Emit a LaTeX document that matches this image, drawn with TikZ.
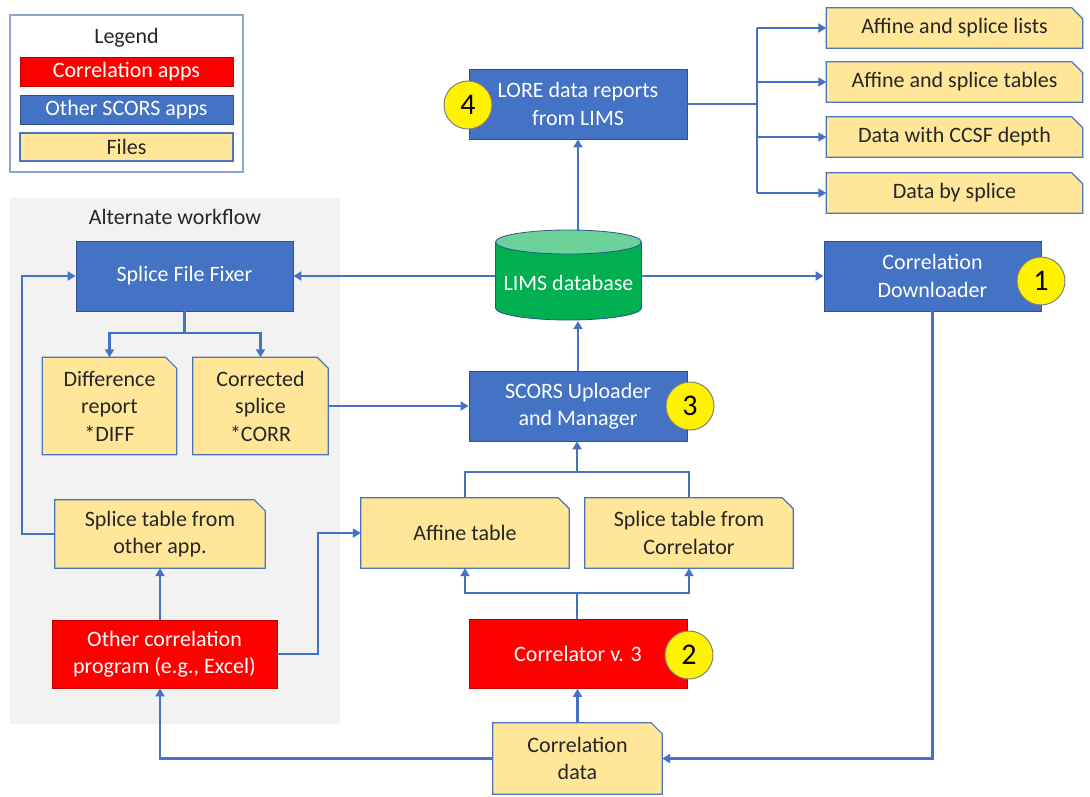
\documentclass[tikz,border=0pt]{standalone}
\usepackage{fontspec}
\setmainfont{Carlito}
\usetikzlibrary{arrows.meta}
\definecolor{appblue}{HTML}{4472C4}
\definecolor{appblueb}{HTML}{2F528F}
\definecolor{appred}{HTML}{FF0000}
\definecolor{filey}{HTML}{FFE699}
\definecolor{lineb}{HTML}{4472C4}
\definecolor{panelgray}{HTML}{F2F2F2}
\definecolor{dbgreen}{HTML}{00B050}
\definecolor{dbtop}{HTML}{6DD29A}
\definecolor{legframe}{HTML}{8EA3CE}
\definecolor{txtdark}{HTML}{262626}
\pgfdeclarelayer{bg}
\pgfsetlayers{bg,main}
\tikzset{
 nodebase/.style={inner sep=0pt, align=center, font=\fontsize{22}{27.5}\selectfont},
 bluebox/.style={nodebase, rectangle, fill=appblue, draw=appblueb, line width=0.8pt, text=white},
 redbox/.style={nodebase, rectangle, fill=appred, draw=appred!75!black, line width=0.8pt, text=white},
 filebox/.style={nodebase, rectangle, text=txtdark},
 fileline/.style={fill=filey, draw=appblue!85!gray, line width=1.2pt},
 badge/.style={circle, fill=yellow, draw=gray, line width=1pt, minimum size=48pt, inner sep=0pt, font=\fontsize{30}{30}\selectfont},
 conn/.style={draw=lineb, line width=2.8pt},
 arr/.style={conn, -{Triangle[length=8pt,width=9pt]}},
}
\newcommand\myfile[6]{%
 \node[filebox, minimum width=#4pt, minimum height=#5pt] (#1) at (#2,#3) {#6};
 \begin{pgfonlayer}{bg}
 \draw[fileline] (#1.north west) -- ([xshift=-11pt]#1.north east) -- ([yshift=-11pt]#1.north east) -- (#1.south east) -- (#1.south west) -- cycle;
 \end{pgfonlayer}}
\begin{document}
\begin{tikzpicture}[x=1pt,y=-1pt]
\useasboundingbox (0,0) rectangle (1090,797);
\begin{pgfonlayer}{bg}
\fill[white] (0,0) rectangle (1090,797);
\fill[panelgray] (10,198) rectangle (340,724);
\end{pgfonlayer}
\node[nodebase, text=txtdark] (altlab) at (175,217) {Alternate workflow};
% legend
\draw[legframe, line width=1.2pt, fill=white] (10,15) rectangle (243,172);
\node[nodebase, text=txtdark] (legtitle) at (126.5,38) {Legend};
\node[redbox, minimum width=213pt, minimum height=29pt] (legred) at (126.5,71.5) {Correlation apps};
\node[bluebox, minimum width=213pt, minimum height=29pt] (legblue) at (126.5,109.5) {Other SCORS apps};
\node[filebox, fill=filey, draw=appblue!85!gray, line width=1.2pt, minimum width=213pt, minimum height=28pt] (legfile) at (126.5,147) {Files};
% apps
\node[bluebox, minimum width=218pt, minimum height=70pt] (LORE) at (578,104) {LORE data reports\\from LIMS};
\node[bluebox, minimum width=217pt, minimum height=70pt] (SFF) at (184.5,276) {Splice File Fixer};
\node[bluebox, minimum width=217pt, minimum height=70pt] (CD) at (932.5,276) {Correlation\\Downloader};
\node[bluebox, minimum width=218pt, minimum height=70pt] (SCORS) at (578,406) {SCORS Uploader\\and Manager};
\node[redbox, minimum width=218pt, minimum height=69pt] (CORR) at (578,654) {Correlator v. 3};
\node[redbox, minimum width=225pt, minimum height=68pt] (OCP) at (164.5,654) {Other correlation\\program (e.g., Excel)};
% LIMS cylinder
\fill[dbgreen] (568.5,308) ellipse [x radius=73pt, y radius=12pt];
\draw[appblueb, line width=0.8pt] (568.5,308) ellipse [x radius=73pt, y radius=12pt];
\fill[dbgreen] (495.5,242) rectangle (641.5,308);
\draw[appblueb, line width=0.8pt] (495.5,242) -- (495.5,308) (641.5,242) -- (641.5,308);
\draw[appblueb, line width=0.8pt, fill=dbtop] (568.5,242) ellipse [x radius=73pt, y radius=12pt];
\node[nodebase, minimum width=146pt, minimum height=90pt] (LIMS) at (568.5,276) {};
\node[nodebase, text=white] (LIMStxt) at (568.5,283) {LIMS database};
% files
\myfile{F1}{954.5}{28}{256}{40}{Affine and splice lists}
\myfile{F2}{954.5}{82}{256}{40}{Affine and splice tables}
\myfile{F3}{954.5}{137}{256}{40}{Data with CCSF depth}
\myfile{F4}{954.5}{193}{256}{40}{Data by splice}
\myfile{DIFF}{109.5}{406}{134}{97}{Difference\\report\\*DIFF}
\myfile{CORF}{260.5}{406}{135}{97}{Corrected\\splice\\*CORR}
\myfile{STO}{160}{534}{210}{68}{Splice table from\\other app.}
\myfile{AFF}{465}{533}{208}{70}{Affine table}
\myfile{STC}{689}{533}{208}{70}{Splice table from\\Correlator}
\myfile{CDATA}{577.5}{758.5}{169}{71}{Correlation\\data}
% connectors
\coordinate (tr) at (757,104);
\draw[conn] (LORE.east) -- (tr);
\draw[conn] (tr |- F1.west) -- (tr |- F4.west);
\foreach \f in {F1,F2,F3,F4} \draw[arr] (tr |- \f.west) -- (\f.west);
\draw[arr] (LIMS.north -| LORE.south) -- (LORE.south);
\draw[arr] (LIMS.west) -- (SFF.east);
\draw[arr] (LIMS.east) -- (CD.west);
\draw[arr] (SCORS.north) -- (SCORS.north |- LIMS.south);
\coordinate (sffb) at (184.5,333);
\draw[conn] (SFF.south) -- (sffb);
\draw[arr] (sffb) -| (DIFF.north);
\draw[arr] (sffb) -| (CORF.north);
\draw[arr] (CORF.east) -- (SCORS.west);
\coordinate (lft) at (22,400);
\draw[arr] (STO.west) -| (lft) |- (SFF.west);
\draw[arr] (STO.south |- OCP.north) -- (STO.south);
\coordinate (mid) at (318,600);
\draw[arr] (OCP.east) -| (mid) |- (AFF.west);
\coordinate (up) at (577,472);
\draw[conn] (AFF.north) |- (up);
\draw[conn] (STC.north) |- (up);
\draw[arr] (up) -- (SCORS.south -| up);
\coordinate (dn) at (577,593);
\draw[conn] (CORR.north -| dn) -- (dn);
\draw[arr] (dn) -| (AFF.south);
\draw[arr] (dn) -| (STC.south);
\draw[arr] (CDATA.north) -- (CDATA.north |- CORR.south);
\draw[arr] (CDATA.west) -| (STO.south |- OCP.south);
\draw[arr] (CD.south) |- (CDATA.east);
% badges
\node[badge] (b1) at (1041,281) {1};
\node[badge] (b2) at (689,655) {2};
\node[badge] (b3) at (690,406) {3};
\node[badge] (b4) at (468,105) {4};
\end{tikzpicture}
\end{document}
